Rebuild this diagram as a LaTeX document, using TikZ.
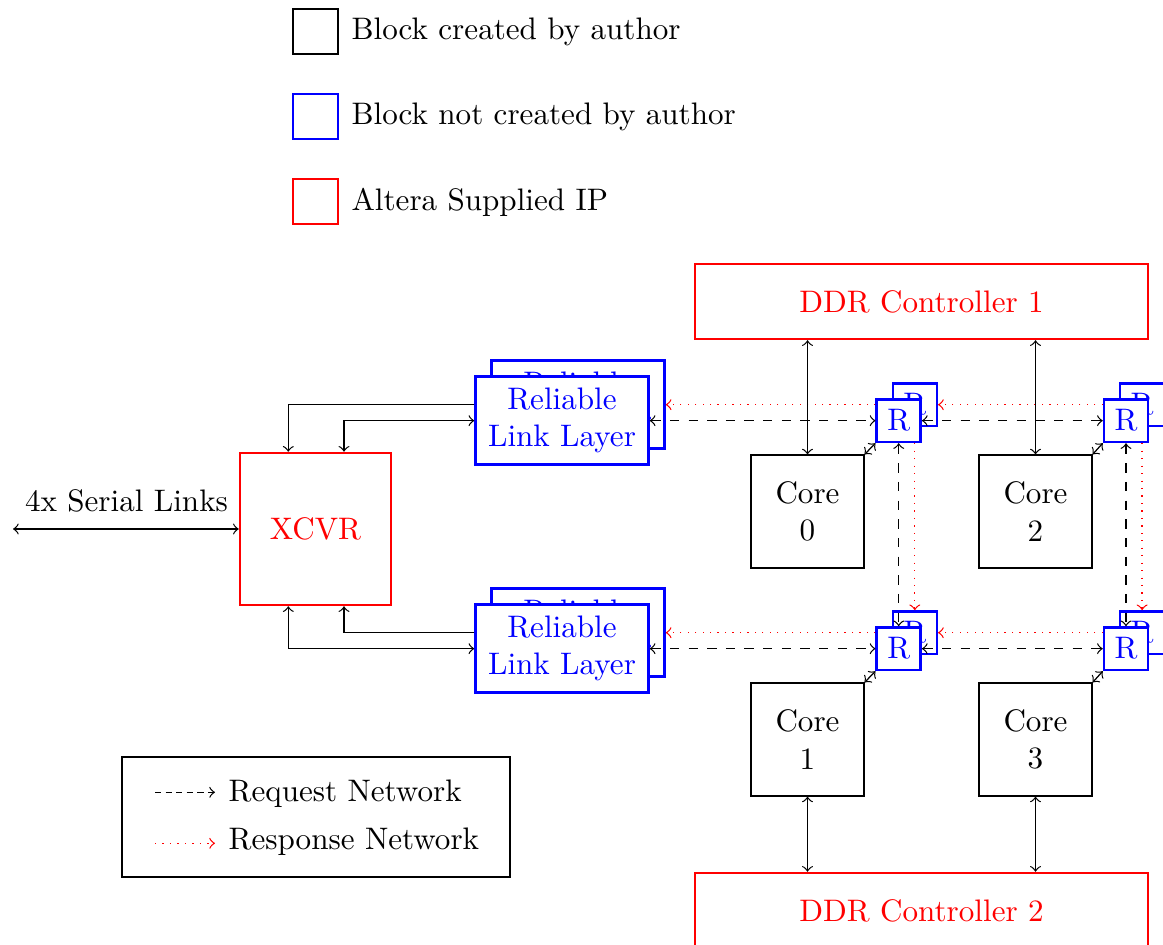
\documentclass[tikz,border=0pt]{standalone}
\usetikzlibrary{calc}
\newcommand{\pxu}{0.3215pt}
\begin{document}
\begin{tikzpicture}[x=0.3215pt,y=-0.3215pt,
  coreb/.style={draw, line width=0.35pt, minimum width=113*\pxu, minimum height=113*\pxu, align=center, inner sep=0pt},
  ipb/.style={draw=red, thick, text=red, inner sep=0pt, align=center},
  rllb/.style={draw=blue, thick, text=blue, fill=white, minimum width=173*\pxu, minimum height=88*\pxu, align=center, inner sep=0pt},
  rtb/.style={draw=blue, thick, text=blue, fill=white, minimum width=44*\pxu, minimum height=42.5*\pxu, inner sep=0pt},
  legsq/.style={thick, minimum width=45*\pxu, minimum height=45*\pxu, inner sep=0pt},
  legtxt/.style={anchor=base west, inner sep=0pt},
  req/.style={dashed, <->},
  resp/.style={red, dotted, ->},
  link/.style={<->}
]
\useasboundingbox (0,0) rectangle (1163,945);

% top legend
\node[legsq, draw=black] (lg1) at (315.5,31.5) {};
\node[legtxt] (lt1) at (351,39.3) {Block created by author};
\node[legsq, draw=blue] (lg2) at (315.5,116.5) {};
\node[legtxt] (lt2) at (351,125) {Block not created by author};
\node[legsq, draw=red] (lg3) at (315.5,201.5) {};
\node[legtxt] (lt3) at (351,210.7) {Altera Supplied IP};

% IP blocks
\node[ipb, minimum width=453*\pxu, minimum height=75*\pxu] (ddr1) at (921.5,301.5) {DDR Controller 1};
\node[ipb, minimum width=453*\pxu, minimum height=75*\pxu] (ddr2) at (921.5,910.5) {DDR Controller 2};
\node[ipb, minimum width=151*\pxu, minimum height=152*\pxu] (xcvr) at (315.5,529) {XCVR};

% cores
\node[coreb] (c0) at (807.5,511.5) {Core\\0};
\node[coreb] (c2) at (1035.5,511.5) {Core\\2};
\node[coreb] (c1) at (807.5,739.5) {Core\\1};
\node[coreb] (c3) at (1035.5,739.5) {Core\\3};

% reliable link layers
\node[rllb] (rb0) at (578,404.7) {Reliable\\Link Layer};
\node[rllb] (rf0) at (562,420.7) {Reliable\\Link Layer};
\node[rllb] (rb1) at (578,632.7) {Reliable\\Link Layer};
\node[rllb] (rf1) at (562,648.7) {Reliable\\Link Layer};

% routers
\node[rtb] (b00) at (914.8,404.7) {R};
\node[rtb] (f00) at (898.7,420.7) {R};
\node[rtb] (b10) at (1142.1,404.7) {R};
\node[rtb] (f10) at (1126,420.7) {R};
\node[rtb] (b01) at (914.8,632.7) {R};
\node[rtb] (f01) at (898.7,648.7) {R};
\node[rtb] (b11) at (1142.1,632.7) {R};
\node[rtb] (f11) at (1126,648.7) {R};

% network links
\draw[req] (rf0.east) -- (f00.west);
\draw[resp] (f00.west |- b00.west) -- (rb0.east);
\draw[req] (f00.east) -- (f10.west);
\draw[resp] (f10.west |- b10.west) -- (b00.east);
\draw[req] (rf1.east) -- (f01.west);
\draw[resp] (f01.west |- b01.west) -- (rb1.east);
\draw[req] (f01.east) -- (f11.west);
\draw[resp] (f11.west |- b11.west) -- (b01.east);
\draw[req] (f00.south) -- (f01.north);
\draw[resp] (f00.south -| b01.north) -- (b01.north);
\draw[req] (f10.south) -- (f11.north);
\draw[resp] (f10.south -| b11.north) -- (b11.north);

% core - router
\draw[link] (c0.north east) -- (f00.south west);
\draw[link] (c2.north east) -- (f10.south west);
\draw[link] (c1.north east) -- (f01.south west);
\draw[link] (c3.north east) -- (f11.south west);

% DDR - core
\draw[link] (c0.north |- ddr1.south) -- (c0.north);
\draw[link] (c2.north |- ddr1.south) -- (c2.north);
\draw[link] (c1.south) -- (c1.south |- ddr2.north);
\draw[link] (c3.south) -- (c3.south |- ddr2.north);

% XCVR - RLL
\draw[->] (rf0.west |- rb0.west) -| ($(xcvr.north)+(-27.2,0)$);
\draw[<->] ($(xcvr.north)+(28.5,0)$) |- (rf0.west);
\draw[->] (rf1.west |- rb1.west) -| ($(xcvr.south)+(28.5,0)$);
\draw[<->] ($(xcvr.south)+(-27.2,0)$) |- (rf1.west);

% serial links
\coordinate (sl) at (13,529);
\draw[link] (sl) -- (xcvr.west);
\node[anchor=base, inner sep=0pt] (slt) at (126.5,511.7) {4x Serial Links};

% bottom legend
\node[draw, thick, minimum width=388*\pxu, minimum height=120*\pxu, inner sep=0pt] (legbox) at (316,817) {};
\coordinate (la1) at (155,792.3);
\coordinate (la2) at (215,792.3);
\draw[dash pattern=on 2pt off 1.4pt, ->] (la1) -- (la2);
\node[legtxt] (lr1) at (228,801.7) {Request Network};
\coordinate (lb1) at (155,843.3);
\coordinate (lb2) at (215,843.3);
\draw[red, dotted, ->] (lb1) -- (lb2);
\node[legtxt] (lr2) at (228,850) {Response Network};
\end{tikzpicture}
\end{document}
